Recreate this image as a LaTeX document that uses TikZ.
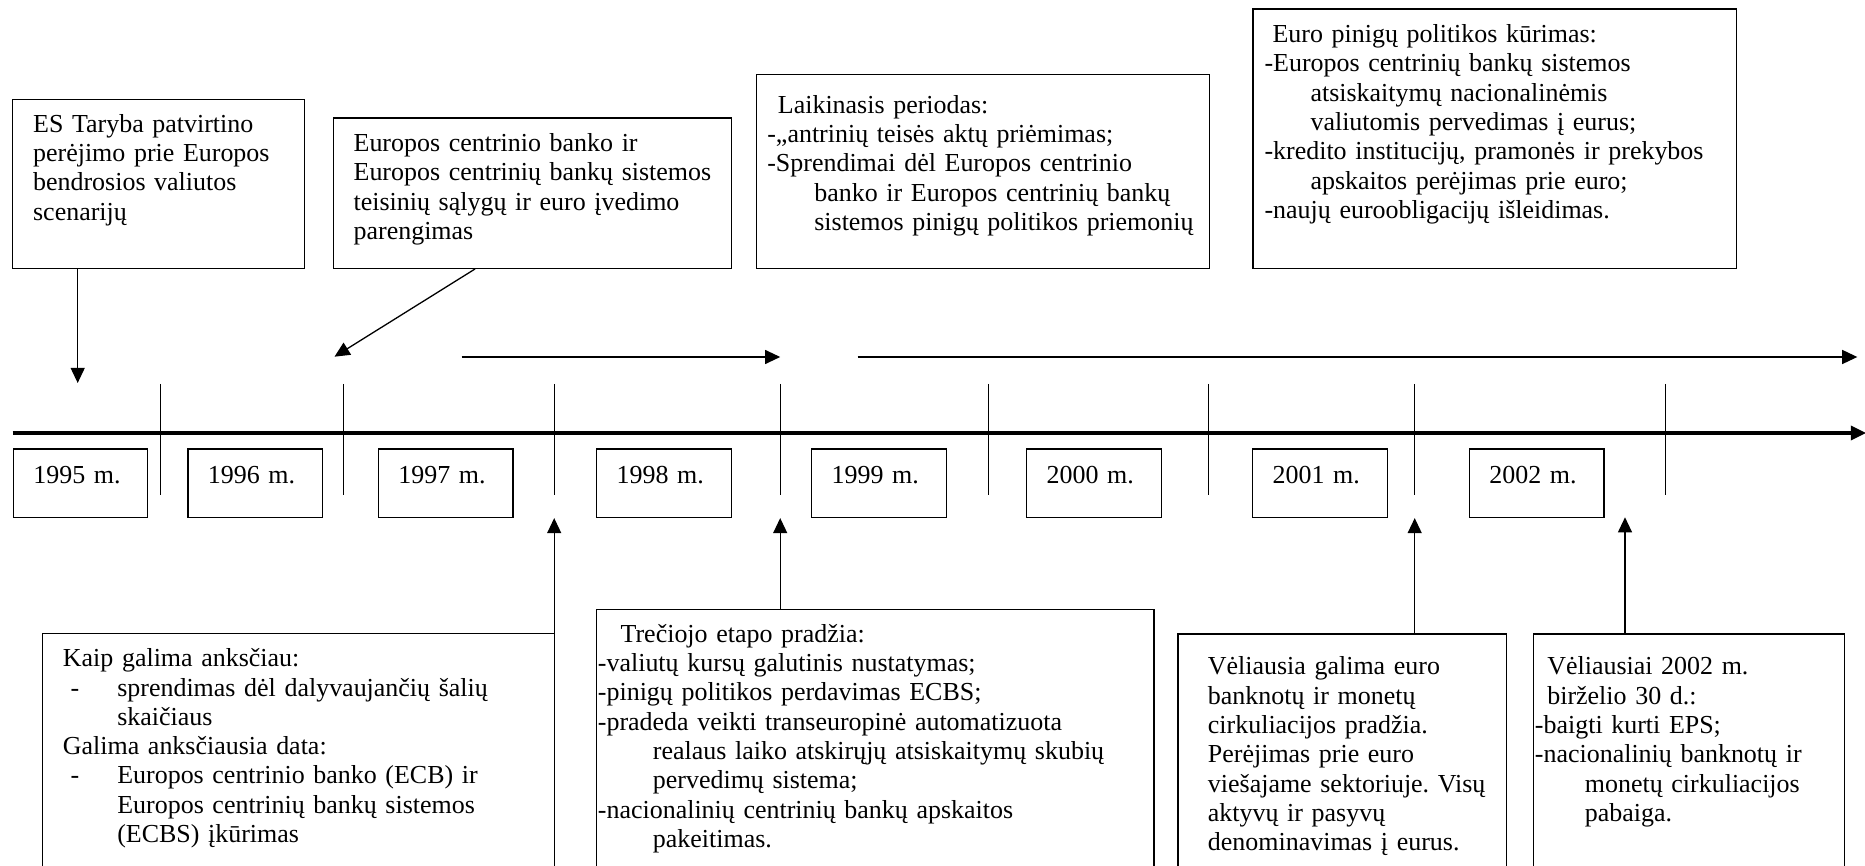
\documentclass[tikz,border=0pt]{standalone}
\usepackage{fontspec}
\setmainfont{Liberation Serif}
\usetikzlibrary{arrows.meta}
\newlength{\px}
\setlength{\px}{0.4624pt}

\begin{document}
\begin{tikzpicture}[x=0.4624pt, y=-0.4624pt, line width=0.6pt,
    box/.style={draw, anchor=north west, inner sep=0pt},
    txt/.style={anchor=base west, inner sep=0pt, text width=620\px, align=left, font=\fontsize{12}{13.55}\selectfont\frenchspacing},
    yearbox/.style={draw, anchor=north west, inner xsep=20\px, inner ysep=0pt, text width=94.5\px, align=left,
      text height=17.5\px, text depth=17.2\px, minimum height=68.5\px, font=\fontsize{12}{13.55}\selectfont},
    arr/.style={-{Triangle[length=7pt,width=6.5pt]}}]
  \useasboundingbox (0,0) rectangle (1865,866);
  \clip (0,0) rectangle (1865,866);

  \coordinate (ax0) at (12.7,433);
  \coordinate (ax1) at (1866,433);
  \draw[arr, line width=1.5pt] (ax0) -- (ax1);
  \foreach \x [count=\i] in {160.7,343.5,554.2,780.2,988.4,1208.4,1414.7,1665.7} {
    \coordinate (k\i) at (\x,495.5);
    \draw (\x,384) -- (k\i);
  }
  \foreach \x/\yr [count=\i] in {12.7/1995,187.3/1996,377.7/1997,596/1998,811/1999,1026/2000,1252/2001,1468.7/2002}
    \node (y\i) [yearbox] at (\x,448.3) {\yr{} m.};

  \node (scen) [box, minimum width=292\px, minimum height=169\px] at (12,98.7) {};
  \node (scentxt) [txt] at (32.5,132.3) {ES Taryba patvirtino\\perėjimo prie Europos\\bendrosios valiutos\\scenarijų};
  \coordinate (d95) at (77.7,383);
  \draw[arr] (scen.south -| d95) -- (d95);

  \node (teis) [box, minimum width=398\px, minimum height=150.4\px] at (333,117.3) {};
  \node (teistxt) [txt] at (353,151.7) {Europos centrinio banko ir\\Europos centrinių bankų sistemos\\teisinių sąlygų ir euro įvedimo\\parengimas};
  \coordinate (d96) at (334.5,356.7);
  \draw[arr] (teis.south west) ++(142,0) -- (d96);

  \node (laik) [box, minimum width=453\px, minimum height=194\px] at (756,74) {};
  \node (laiktxt) [txt] at (766.7,113.3) {\hspace*{10.6\px}Laikinasis periodas:\\
    -„antrinių teisės aktų priėmimas;\\
    -Sprendimai dėl Europos centrinio\\
    \hspace*{47\px}banko ir Europos centrinių bankų\\
    \hspace*{47\px}sistemos pinigų politikos priemonių};

  \node (kur) [box, minimum width=483.6\px, minimum height=259.4\px] at (1252.4,8.3) {};
  \node (kurtxt) [txt] at (1263.9,42.7) {\hspace*{8\px}Euro pinigų politikos kūrimas:\\
    -Europos centrinių bankų sistemos\\
    \hspace*{46\px}atsiskaitymų nacionalinėmis\\
    \hspace*{46\px}valiutomis pervedimas į eurus;\\
    -kredito institucijų, pramonės ir prekybos\\
    \hspace*{46\px}apskaitos perėjimas prie euro;\\
    -naujų euroobligacijų išleidimas.};

  \coordinate (per1) at (461.5,357);
  \coordinate (per2) at (857.6,357);
  \coordinate (per3) at (1857.3,357);
  \draw[arr] (per1) -- (per1 -| k4);
  \draw[arr] (per2) -- (per3);

  \node (kaip) [box, minimum width=512.3\px, minimum height=260\px] at (41.7,632.7) {};
  \node (kaiptxt) [txt] at (62.3,666.7) {Kaip galima anksčiau:\\
    \hspace*{7.7\px}\makebox[46.7\px][l]{-}sprendimas dėl dalyvaujančių šalių\\
    \hspace*{54.4\px}skaičiaus\\
    Galima anksčiausia data:\\
    \hspace*{7.7\px}\makebox[46.7\px][l]{-}Europos centrinio banko (ECB) ir\\
    \hspace*{54.4\px}Europos centrinių bankų sistemos\\
    \hspace*{54.4\px}(ECBS) įkūrimas};

  \node (trec) [box, minimum width=557.4\px, minimum height=280\px] at (596,609) {};
  \node (trectxt) [txt] at (597.3,642.3) {\hspace*{22.7\px}Trečiojo etapo pradžia:\\
    -valiutų kursų galutinis nustatymas;\\
    -pinigų politikos perdavimas ECBS;\\
    -pradeda veikti transeuropinė automatizuota\\
    \hspace*{55\px}realaus laiko atskirųjų atsiskaitymų skubių\\
    \hspace*{55\px}pervedimų sistema;\\
    -nacionalinių centrinių bankų apskaitos\\
    \hspace*{55\px}pakeitimas.};

  \node (vel) [box, minimum width=328.4\px, minimum height=250\px] at (1177.3,633.3) {};
  \node (veltxt) [txt] at (1207.3,675) {Vėliausia galima euro\\banknotų ir monetų\\cirkuliacijos pradžia.\\Perėjimas prie euro\\viešajame sektoriuje. Visų\\aktyvų ir pasyvų\\denominavimas į eurus.};

  \node (birz) [box, minimum width=310.8\px, minimum height=250\px] at (1532.7,633.3) {};
  \node (birztxt) [txt] at (1534.3,675) {\hspace*{12.4\px}Vėliausiai 2002 m.\\
    \hspace*{12.4\px}birželio 30 d.:\\
    -baigti kurti EPS;\\
    -nacionalinių banknotų ir\\
    \hspace*{50\px}monetų cirkuliacijos\\
    \hspace*{50\px}pabaiga.};
  \coordinate (u8) at (1625,517.3);

  \draw[arr] (kaip.north -| k3) -- (k3 |- y1.south);
  \draw[arr] (trec.north -| k4) -- (k4 |- y1.south);
  \draw[arr] (vel.north -| k7) -- (k7 |- y1.south);
  \draw[arr] (birz.north -| u8) -- (u8);
\end{tikzpicture}
\end{document}
